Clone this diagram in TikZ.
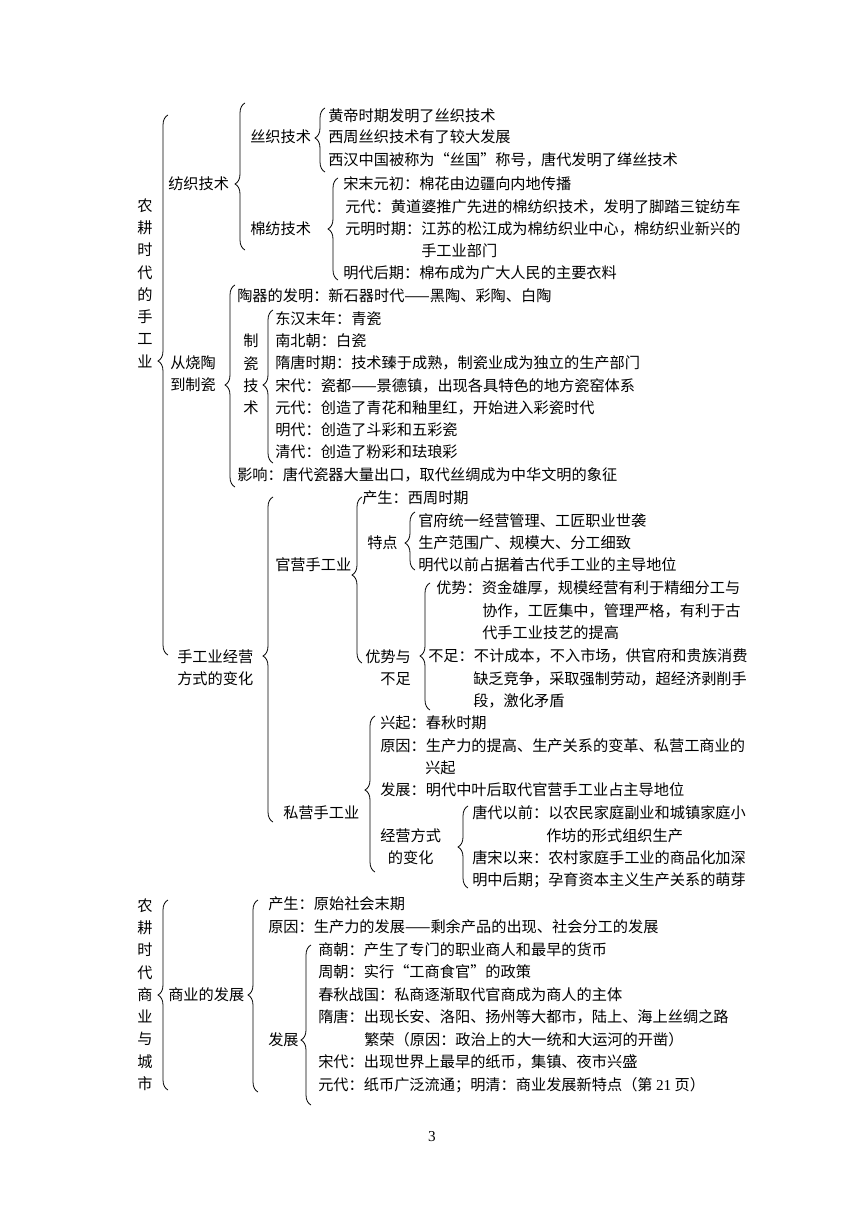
\documentclass[tikz,border=0pt]{standalone}
\usepackage{fontspec}
\usepackage{xcolor}
\usepackage{tikz}
\usetikzlibrary{decorations.pathreplacing, positioning}
\newfontfamily\zhfont{Noto Sans CJK SC}
\newfontfamily\latfont{Liberation Serif}
\tikzset{
  t/.style={anchor=west, inner sep=0pt},
  col/.style={inner sep=0pt, align=center},
  kuo/.style={line width=0.6pt, decorate},
}
% brace: spine x, top y, bottom y, tip y
\newcommand{\kuohao}[4]{%
  \pgfmathsetmacro{\asp}{(#3-#4)/(#3-#2)}%
  \draw[kuo, decoration={brace, amplitude=7.5pt, aspect=\asp}] (#1+5,#3) -- (#1+5,#2);}

\begin{document}
\begin{tikzpicture}[x=0.75pt, y=-0.75pt, font=\zhfont\fontsize{11.4}{16.7}\selectfont]
			\fill[white] (0,0) rectangle (860,1216);
			\useasboundingbox (0,0) rectangle (860,1216);
			% 纺织技术
			\node[col] (nggy) at (145,283) {农\\耕\\时\\代\\的\\手\\工\\业};
			\node[t] (fzjs) at (168,184) {纺织技术};
			\node[t] (szjs) at (250,137) {丝织技术};
			\node[t] (sz1) at (328,116) {黄帝时期发明了丝织技术};
			\node[t] (sz2) at (328,137) {西周丝织技术有了较大发展};
			\node[t] (sz3) at (328,160) {西汉中国被称为“丝国”称号，唐代发明了缂丝技术};
			\node[t] (mfjs) at (250,229) {棉纺技术};
			\node[t] (mf1) at (343,184) {宋末元初：棉花由边疆向内地传播};
			\node[t] (mf2) at (345,207) {元代：黄道婆推广先进的棉纺织技术，发明了脚踏三锭纺车};
			\node[t] (mf3) at (345,229) {元明时期：江苏的松江成为棉纺织业中心，棉纺织业新兴的};
			\node[t] (mf3b) at (421,251) {手工业部门};
			\node[t] (mf4) at (343,273) {明代后期：棉布成为广大人民的主要衣料};
			% 从烧陶到制瓷
			\node[t, align=left] (ctdc) at (170,374) {从烧陶\\到制瓷};
			\node[col] (zcjs) at (251,374.5) {制\\瓷\\技\\术};
			\node[t] (tq) at (237,296) {陶器的发明：新石器时代——黑陶、彩陶、白陶};
			\node[t] (zc1) at (275,319) {东汉末年：青瓷};
			\node[t] (zc2) at (275,341) {南北朝：白瓷};
			\node[t] (zc3) at (275,363) {隋唐时期：技术臻于成熟，制瓷业成为独立的生产部门};
			\node[t] (zc4) at (275,386) {宋代：瓷都——景德镇，出现各具特色的地方瓷窑体系};
			\node[t] (zc5) at (275,408) {元代：创造了青花和釉里红，开始进入彩瓷时代};
			\node[t] (zc6) at (275,430) {明代：创造了斗彩和五彩瓷};
			\node[t] (zc7) at (275,452) {清代：创造了粉彩和珐琅彩};
			\node[t] (yx) at (237,475) {影响：唐代瓷器大量出口，取代丝绸成为中华文明的象征};
			% 手工业经营方式的变化
			\node[t, align=left] (jyfs) at (177,667.5) {手工业经营\\方式的变化};
			\node[t] (gy) at (275,565) {官营手工业};
			\node[t] (gy1) at (362,498) {产生：西周时期};
			\node[t] (td) at (367,543) {特点};
			\node[t] (td1) at (418,521) {官府统一经营管理、工匠职业世袭};
			\node[t] (td2) at (418,543) {生产范围广、规模大、分工细致};
			\node[t] (td3) at (418,565) {明代以前占据着古代手工业的主导地位};
			\node[t, align=right] (ysbz) at (365,667.5) {优势与\\不足};
			\node[t] (ys1) at (436,588) {优势：资金雄厚，规模经营有利于精细分工与};
			\node[t] (ys2) at (482,611) {协作，工匠集中，管理严格，有利于古};
			\node[t] (ys3) at (482,633) {代手工业技艺的提高};
			\node[t] (bz1) at (428,656) {不足：不计成本，不入市场，供官府和贵族消费};
			\node[t] (bz2) at (473,679) {缺乏竞争，采取强制劳动，超经济剥削手};
			\node[t] (bz3) at (473,701) {段，激化矛盾};
			\node[t] (sy) at (283,813) {私营手工业};
			\node[t] (sy1) at (380,723) {兴起：春秋时期};
			\node[t] (sy2) at (380,746) {原因：生产力的提高、生产关系的变革、私营工商业的};
			\node[t] (sy2b) at (425,768) {兴起};
			\node[t] (sy3) at (380,790) {发展：明代中叶后取代官营手工业占主导地位};
			\node[t, align=center] (jybh) at (380,847) {经营方式\\的变化};
			\node[t] (bh1) at (472,813) {唐代以前：以农民家庭副业和城镇家庭小};
			\node[t] (bh1b) at (546,836) {作坊的形式组织生产};
			\node[t] (bh2) at (472,858) {唐宋以来：农村家庭手工业的商品化加深};
			\node[t] (bh3) at (472,880) {明中后期；孕育资本主义生产关系的萌芽};
			% 商业与城市
			\node[col] (ngsy) at (145,994.5) {农\\耕\\时\\代\\商\\业\\与\\城\\市};
			\node[t] (syfz) at (168,995) {商业的发展};
			\node[t] (cs) at (268,904) {产生：原始社会末期};
			\node[t] (yy) at (268,927) {原因：生产力的发展——剩余产品的出现、社会分工的发展};
			\node[t] (fz) at (268,1040) {发展};
			\node[t] (fz1) at (318,950) {商朝：产生了专门的职业商人和最早的货币};
			\node[t] (fz2) at (318,972) {周朝：实行“工商食官”的政策};
			\node[t] (fz3) at (318,995) {春秋战国：私商逐渐取代官商成为商人的主体};
			\node[t] (fz4) at (318,1017) {隋唐：出现长安、洛阳、扬州等大都市，陆上、海上丝绸之路};
			\node[t] (fz4b) at (364,1040) {繁荣（原因：政治上的大一统和大运河的开凿）};
			\node[t] (fz5) at (318,1062) {宋代：出现世界上最早的纸币，集镇、夜市兴盛};
			\node[t] (fz6) at (318,1085) {元代：纸币广泛流通；明清：商业发展新特点（第 {\latfont 21} 页）};
			\node (ym) at (432,1137) {\latfont 3};
			% braces
			\kuohao{163}{115}{655}{361}
			\kuohao{240}{103}{250}{184}
			\kuohao{320}{108}{172}{138}
			\kuohao{333}{178}{280}{229}
			\kuohao{230}{285}{487}{385}
			\kuohao{268}{310}{463}{385}
			\kuohao{268}{497}{822}{656}
			\kuohao{357}{497}{663}{575}
			\kuohao{410}{512}{570}{543}
			\kuohao{425}{583}{710}{656}
			\kuohao{370}{716}{872}{790}
			\kuohao{463}{806}{888}{847}
			\kuohao{163}{900}{1090}{995}
			\kuohao{253}{900}{1092}{995}
			\kuohao{306}{945}{1105}{1040}
		\end{tikzpicture}
\end{document}
